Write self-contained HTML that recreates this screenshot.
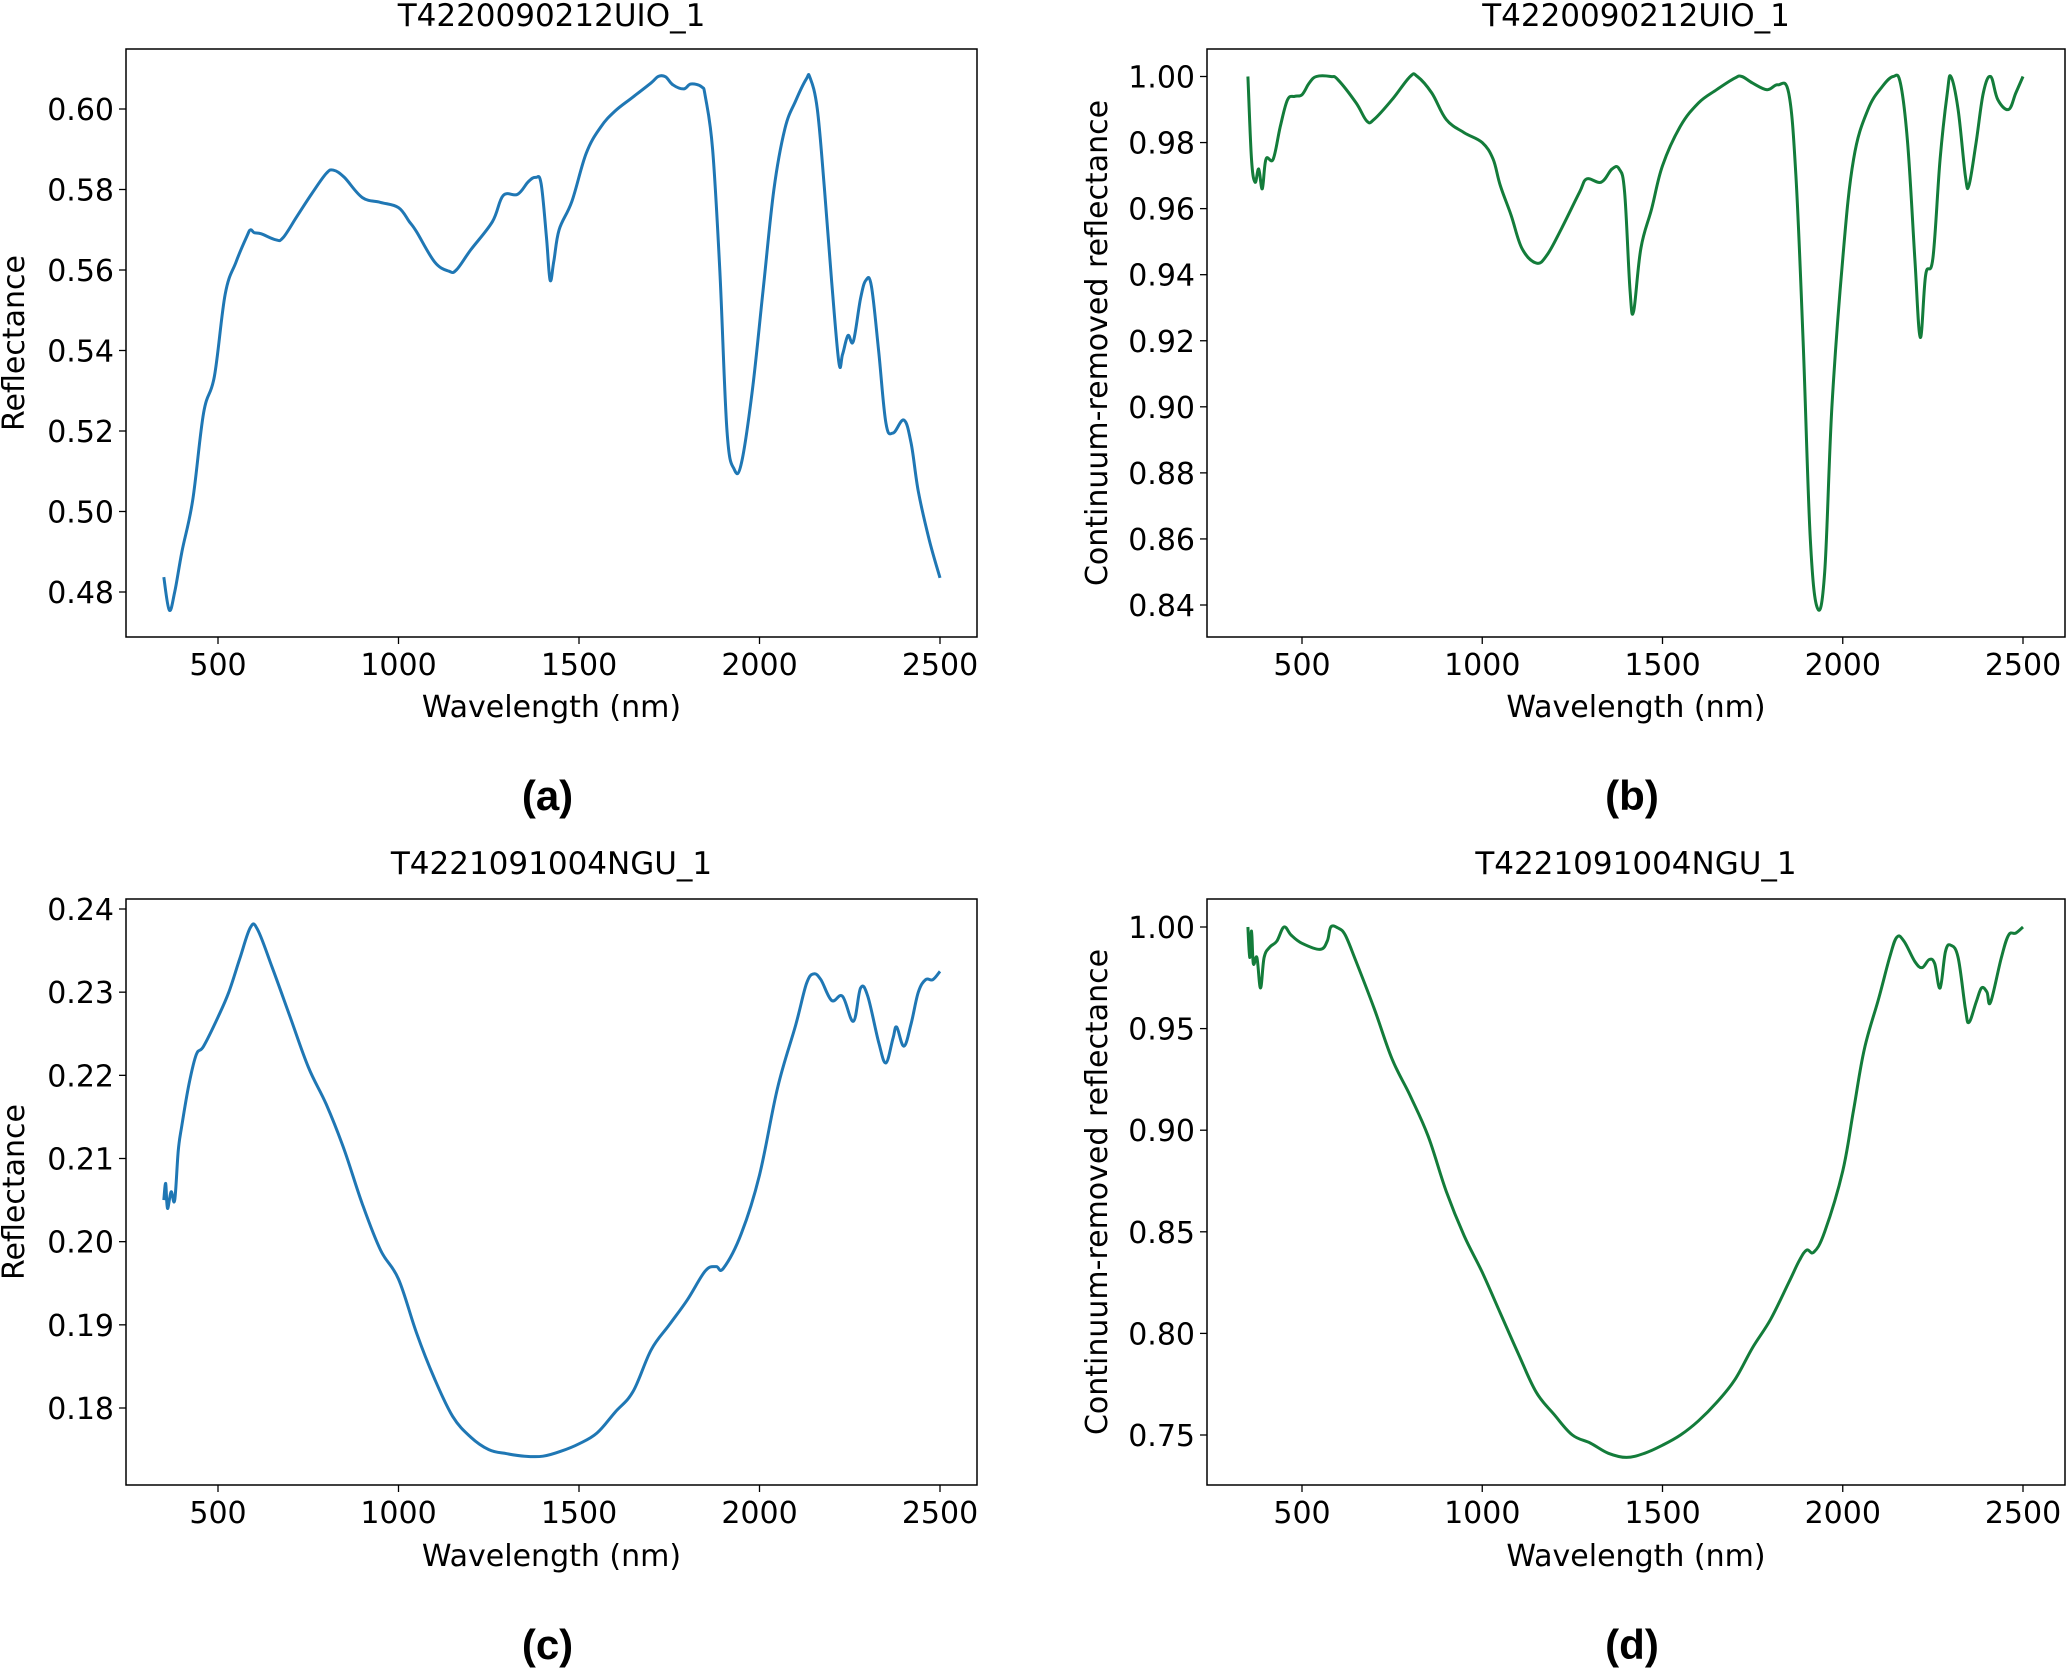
<!DOCTYPE html>
<html><head><meta charset="utf-8"><style>
html,body{margin:0;padding:0;background:#fff;}
svg{display:block;font-family:"DejaVu Sans","Liberation Sans",sans-serif;}
</style></head><body>
<svg id="fig" width="2067" height="1669" viewBox="0 0 2067 1669" xmlns="http://www.w3.org/2000/svg"></svg>
<script>
const xTicks=[500,1000,1500,2000,2500];
const aWl=[350,365,380,400,430,460,490,520,550,580,590,600,620,660,680,720,760,800,820,850,900,950,1000,1030,1050,1100,1140,1160,1200,1260,1290,1330,1360,1380,1395,1410,1420,1430,1445,1480,1520,1560,1600,1650,1700,1720,1740,1760,1790,1810,1840,1850,1870,1890,1910,1930,1950,1980,2010,2040,2070,2100,2130,2140,2160,2180,2200,2220,2230,2245,2260,2280,2295,2310,2330,2350,2370,2400,2420,2440,2470,2500];
const aVal=[0.4837,0.4755,0.480,0.490,0.5028,0.5245,0.5336,0.554,0.562,0.5684,0.570,0.5693,0.569,0.5675,0.568,0.5735,0.579,0.584,0.5848,0.583,0.578,0.5768,0.5755,0.572,0.5695,0.562,0.5597,0.560,0.565,0.572,0.5785,0.5788,0.582,0.583,0.5815,0.568,0.5575,0.562,0.570,0.577,0.589,0.5955,0.5995,0.603,0.6065,0.6081,0.608,0.606,0.605,0.6062,0.6055,0.603,0.59,0.56,0.52,0.5105,0.512,0.53,0.555,0.580,0.595,0.602,0.6075,0.6078,0.600,0.58,0.557,0.537,0.539,0.5437,0.5423,0.553,0.5575,0.556,0.540,0.522,0.5195,0.5227,0.517,0.505,0.493,0.4835];
const aTicks=[0.48,0.50,0.52,0.54,0.56,0.58,0.60];
const bWl=[350,360,370,380,390,400,420,440,460,480,500,520,540,580,600,650,680,700,750,800,820,860,900,950,1000,1030,1050,1080,1110,1150,1180,1220,1270,1290,1330,1360,1380,1395,1410,1420,1440,1470,1500,1550,1600,1650,1700,1720,1750,1790,1820,1850,1870,1890,1910,1930,1950,1970,2000,2030,2070,2110,2140,2160,2180,2200,2215,2230,2250,2270,2290,2300,2320,2340,2350,2370,2390,2410,2430,2460,2480,2500];
const bVal=[1.00,0.975,0.968,0.972,0.966,0.975,0.975,0.985,0.993,0.994,0.9945,0.998,1.0,1.0,0.999,0.992,0.9865,0.987,0.993,1.0,1.0,0.995,0.987,0.983,0.98,0.975,0.967,0.958,0.948,0.9435,0.946,0.954,0.965,0.969,0.968,0.972,0.972,0.965,0.935,0.929,0.948,0.96,0.973,0.985,0.992,0.996,0.9995,1.0,0.998,0.996,0.9975,0.995,0.97,0.92,0.86,0.839,0.85,0.9,0.945,0.975,0.99,0.997,1.0,0.998,0.98,0.945,0.921,0.94,0.945,0.975,0.995,1.0,0.99,0.97,0.967,0.98,0.995,1.0,0.993,0.99,0.995,1.0];
const bTicks=[0.84,0.86,0.88,0.90,0.92,0.94,0.96,0.98,1.00];
const cWl=[350,355,360,370,380,390,400,420,440,460,500,530,560,590,610,650,700,750,800,850,900,950,1000,1050,1100,1150,1200,1250,1300,1350,1400,1450,1500,1550,1600,1650,1700,1750,1800,1850,1880,1900,1950,2000,2050,2100,2130,2150,2170,2200,2230,2260,2280,2300,2330,2350,2370,2380,2400,2420,2440,2460,2480,2500];
const cVal=[0.205,0.207,0.204,0.206,0.205,0.211,0.214,0.219,0.2225,0.2235,0.227,0.230,0.234,0.2378,0.2375,0.233,0.227,0.221,0.2165,0.211,0.2045,0.199,0.1955,0.189,0.1835,0.179,0.1765,0.175,0.1745,0.1742,0.1742,0.1748,0.1757,0.177,0.1795,0.182,0.187,0.190,0.193,0.1965,0.197,0.1968,0.201,0.208,0.2185,0.226,0.231,0.2322,0.2315,0.229,0.2295,0.2265,0.2305,0.2295,0.224,0.2215,0.2245,0.2258,0.2235,0.2262,0.230,0.2315,0.2315,0.2325];
const cTicks=[0.18,0.19,0.20,0.21,0.22,0.23,0.24];
const dWl=[350,355,360,365,375,385,395,410,430,450,470,500,550,570,580,600,620,650,700,750,800,850,900,950,1000,1050,1100,1150,1200,1250,1300,1350,1400,1450,1500,1550,1600,1650,1700,1750,1800,1850,1880,1900,1920,1950,2000,2030,2060,2100,2130,2150,2170,2200,2220,2240,2255,2270,2285,2300,2320,2340,2350,2370,2385,2400,2410,2440,2460,2480,2500];
const dVal=[1.0,0.985,0.998,0.982,0.985,0.97,0.985,0.99,0.993,1.0,0.996,0.992,0.989,0.993,1.0,0.9995,0.996,0.983,0.96,0.935,0.917,0.897,0.87,0.848,0.83,0.81,0.79,0.771,0.76,0.75,0.746,0.741,0.739,0.741,0.745,0.75,0.757,0.766,0.777,0.793,0.807,0.825,0.836,0.841,0.84,0.85,0.88,0.91,0.94,0.965,0.985,0.995,0.993,0.983,0.98,0.984,0.982,0.97,0.988,0.991,0.985,0.96,0.953,0.963,0.97,0.968,0.963,0.985,0.996,0.997,1.0];
const dTicks=[0.75,0.80,0.85,0.90,0.95,1.00];

const NS="http://www.w3.org/2000/svg";
const svg=document.getElementById('fig');
function mk(tag,attrs,parent){const e=document.createElementNS(NS,tag);for(const k in attrs)e.setAttribute(k,attrs[k]);(parent||svg).appendChild(e);return e;}
function smoothPath(pts){
 let d='M'+pts[0][0].toFixed(1)+' '+pts[0][1].toFixed(1);
 for(let i=0;i<pts.length-1;i++){
  const p0=pts[Math.max(0,i-1)],p1=pts[i],p2=pts[i+1],p3=pts[Math.min(pts.length-1,i+2)];
  const t=0.18;
  const c1=[p1[0]+(p2[0]-p0[0])*t,p1[1]+(p2[1]-p0[1])*t];
  const c2=[p2[0]-(p3[0]-p1[0])*t,p2[1]-(p3[1]-p1[1])*t];
  d+='C'+c1[0].toFixed(1)+' '+c1[1].toFixed(1)+' '+c2[0].toFixed(1)+' '+c2[1].toFixed(1)+' '+p2[0].toFixed(1)+' '+p2[1].toFixed(1);
 }
 return d;
}

const panels=[
 {id:'a',L:126,R:977,T:49,B:637,x0:218,x1:940,yv0:0.48,yp0:592,yv1:0.60,yp1:109,wl:aWl,val:aVal,ticks:aTicks,color:'#1f77b4',title:'T4220090212UIO_1',titleY:26,ylab:'Reflectance',ylabX:24,xlabY:717,lab:'(a)',labY:810},
 {id:'b',L:1207,R:2065,T:49,B:637,x0:1302,x1:2023,yv0:0.84,yp0:605,yv1:1.00,yp1:76.5,wl:bWl,val:bVal,ticks:bTicks,color:'#137c3a',title:'T4220090212UIO_1',titleY:26,ylab:'Continuum-removed reflectance',ylabX:1107,xlabY:717,lab:'(b)',labY:810},
 {id:'c',L:126,R:977,T:899,B:1485,x0:218,x1:940,yv0:0.18,yp0:1408,yv1:0.24,yp1:909,wl:cWl,val:cVal,ticks:cTicks,color:'#1f77b4',title:'T4221091004NGU_1',titleY:874,ylab:'Reflectance',ylabX:24,xlabY:1566,lab:'(c)',labY:1659},
 {id:'d',L:1207,R:2065,T:899,B:1485,x0:1302,x1:2023,yv0:0.75,yp0:1435,yv1:1.00,yp1:927,wl:dWl,val:dVal,ticks:dTicks,color:'#137c3a',title:'T4221091004NGU_1',titleY:874,ylab:'Continuum-removed reflectance',ylabX:1107,xlabY:1566,lab:'(d)',labY:1659}
];

panels.forEach(p=>{
 const g=mk('g',{});
 
 
 const xs=v=>p.x0+(v-500)/2000*(p.x1-p.x0);
 const ys=v=>p.yp0+(v-p.yv0)/(p.yv1-p.yv0)*(p.yp1-p.yp0);
 const cx=(p.L+p.R)/2;
 const t=mk('text',{x:cx,y:p.titleY,'text-anchor':'middle','font-size':31,fill:'#000'},g);t.textContent=p.title;
 
 
 const pts=p.wl.map((w,i)=>[xs(w),ys(p.val[i])]);
 const ln=mk('path',{d:smoothPath(pts),fill:'none',stroke:p.color,'stroke-width':3,'stroke-linejoin':'round'},g);
 
 
 const fr=mk('rect',{x:p.L,y:p.T,width:p.R-p.L,height:p.B-p.T,fill:'none',stroke:'#000','stroke-width':1.5},g);
 
 
 xTicks.forEach(v=>{
  const x=xs(v);
  mk('line',{x1:x,x2:x,y1:p.B,y2:p.B+7,stroke:'#000','stroke-width':1.3},g);
  const tl=mk('text',{x:x,y:p.B+38,'text-anchor':'middle','font-size':30},g);tl.textContent=v;
  
  
 });
 p.ticks.forEach(v=>{
  const y=ys(v);
  mk('line',{x1:p.L-7,x2:p.L,y1:y,y2:y,stroke:'#000','stroke-width':1.3},g);
  const tl=mk('text',{x:p.L-12,y:y+11,'text-anchor':'end','font-size':30},g);tl.textContent=v.toFixed(2);
  
  
 });
 const xl=mk('text',{x:cx,y:p.xlabY,'text-anchor':'middle','font-size':30},g);xl.textContent='Wavelength (nm)';
 
 
 const yc=(p.T+p.B)/2;
 const yl=mk('text',{x:p.ylabX,y:yc,'text-anchor':'middle','font-size':30,transform:'rotate(-90 '+p.ylabX+' '+yc+')'},g);yl.textContent=p.ylab;
 
 
 const pl=mk('text',{x:cx-4,y:p.labY,'text-anchor':'middle','font-size':42,'font-weight':'bold','font-family':'"Liberation Sans",sans-serif'},g);pl.textContent=p.lab;
 
 
});
</script>
</body></html>
